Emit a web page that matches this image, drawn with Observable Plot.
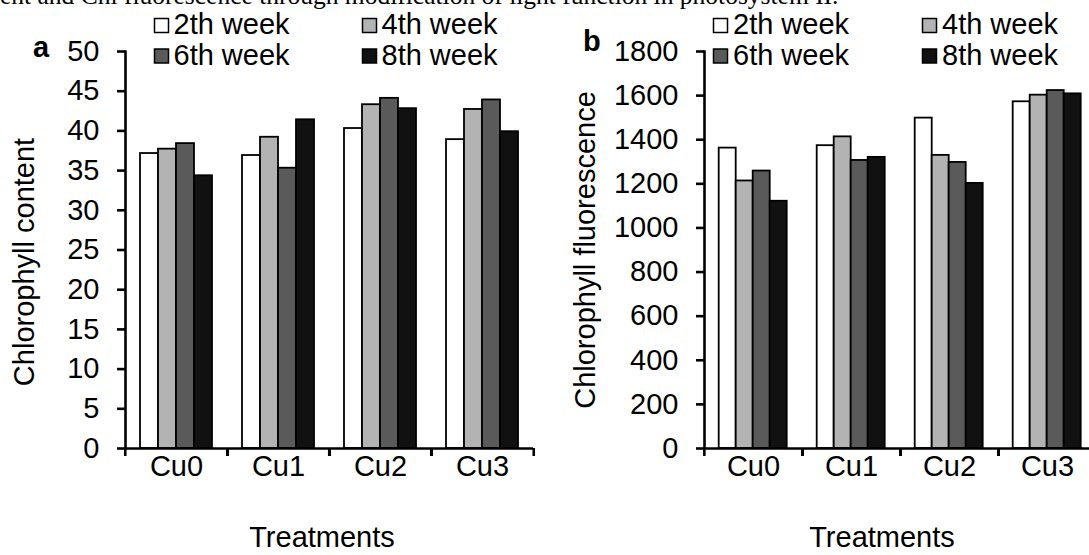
<!DOCTYPE html>
<html><head><meta charset="utf-8">
<script src="https://cdn.jsdelivr.net/npm/d3@7"></script>
<script src="https://cdn.jsdelivr.net/npm/@observablehq/plot@0.6"></script>
<style>
html,body{margin:0;padding:0;background:#fff;}
#wrap{position:relative;width:1089px;height:555px;overflow:hidden;font-family:"Liberation Sans",Arial,sans-serif;background:#fff;}
#wrap > *{position:absolute;top:0;}
</style></head><body><div id="wrap"></div>
<script>
// ---- data ----
const treatments = ["Cu0", "Cu1", "Cu2", "Cu3"];
const weeks = ["2th week", "4th week", "6th week", "8th week"];
const weekColors = ["#ffffff", "#b3b3b3", "#5a5a5a", "#111111"];

// Chlorophyll content (panel a), one array per week, in treatment order
const content2 = [37.15, 36.9, 40.3, 38.9];
const content4 = [37.7, 39.2, 43.3, 42.7];
const content6 = [38.4, 35.3, 44.1, 43.9];
const content8 = [34.35, 41.4, 42.8, 39.9];
const contentTicks = [0, 5, 10, 15, 20, 25, 30, 35, 40, 45, 50];

// Chlorophyll fluorescence (panel b)
const fluor2 = [1362, 1373, 1498, 1572];
const fluor4 = [1213, 1413, 1329, 1602];
const fluor6 = [1258, 1306, 1297, 1623];
const fluor8 = [1121, 1320, 1202, 1608];
const fluorTicks = [0, 200, 400, 600, 800, 1000, 1200, 1400, 1600, 1800];

const headerText = "ent and Chl fluorescence through modification of light function in photosystem II.";

function toRows(series) {
  const rows = [];
  series.forEach((vals, wi) => vals.forEach((v, ti) => rows.push({treatment: treatments[ti], week: weeks[wi], value: v})));
  return rows;
}

const FONT = '"Liberation Sans", Arial, sans-serif';

function chart({rows, yDomain, yTicks, width, marginLeft, marginRight}) {
  const bw = (width - marginLeft - marginRight) / treatments.length;
  return Plot.plot({
    width, height: 555, marginTop: 51, marginBottom: 107, marginLeft, marginRight,
    style: {fontFamily: FONT, fontSize: "29px", color: "#000", background: "transparent", overflow: "visible"},
    fx: {domain: treatments, padding: 0, label: null},
    x: {domain: weeks, paddingInner: 0, paddingOuter: 0.735, axis: null},
    y: {domain: yDomain, label: null},
    color: {domain: weeks, range: weekColors},
    marks: [
      Plot.barY(rows, {fx: "treatment", x: "week", y: "value", fill: "week", stroke: "#000", strokeWidth: 1.8}),
      Plot.ruleY([0], {strokeWidth: 2.6}),
      Plot.frame({anchor: "left", facetAnchor: "left", strokeWidth: 2.6}),
      Plot.axisY(yTicks, {tickSize: 8, tickPadding: 18, strokeWidth: 2.6, fontSize: 29, tickFormat: d => String(d), label: null}),
      Plot.axisFx({anchor: "bottom", tickSize: 0, tickPadding: 7, fontSize: 29, label: null}),
      Plot.axisFx({anchor: "bottom", tickSize: 8, strokeWidth: 2.6, tickFormat: () => "", dx: -bw / 2, label: null}),
      Plot.axisFx([treatments[treatments.length - 1]], {anchor: "bottom", tickSize: 8, strokeWidth: 2.6, tickFormat: () => "", dx: bw / 2, label: null})
    ]
  });
}

const wrap = document.getElementById("wrap");

const plotA = chart({rows: toRows([content2, content4, content6, content8]), yDomain: [0, 50], yTicks: contentTicks,
  width: 545, marginLeft: 124, marginRight: 11});
plotA.style.left = "0px";
wrap.appendChild(plotA);

const plotB = chart({rows: toRows([fluor2, fluor4, fluor6, fluor8]), yDomain: [0, 1800], yTicks: fluorTicks,
  width: 560, marginLeft: 158.3, marginRight: 8.5});
plotB.style.left = "545px";
wrap.appendChild(plotB);

// ---- overlay: header, panel letters, legends, axis titles ----
const svg = d3.create("svg").attr("width", 1089).attr("height", 555)
  .style("left", "0px").style("pointer-events", "none").style("overflow", "visible");

svg.append("text").attr("x", 0).attr("y", 4)
  .attr("font-family", '"Liberation Serif", "Times New Roman", serif').attr("font-size", 25.5)
  .text(headerText);

const panels = [
  {letter: "a", lx: 33, ly: 57, cols: [154.5, 362.5], textDx: 19, ytitle: "Chlorophyll content", tx: 34, ty: 262, xtx: 322},
  {letter: "b", lx: 583, ly: 51, cols: [713.5, 922.5], textDx: 19.5, ytitle: "Chlorophyll fluorescence", tx: 595, ty: 250, xtx: 882}
];
const rowY = [{rect: 18.5, base: 34}, {rect: 49, base: 64.5}];

for (const p of panels) {
  svg.append("text").attr("x", p.lx).attr("y", p.ly).attr("font-family", FONT).attr("font-size", 29)
    .attr("font-weight", "bold").text(p.letter);
  weeks.forEach((w, i) => {
    const r = Math.floor(i / 2), c = i % 2;
    svg.append("rect").attr("x", p.cols[c]).attr("y", rowY[r].rect).attr("width", 14).attr("height", 14)
      .attr("fill", weekColors[i]).attr("stroke", "#000").attr("stroke-width", 1.5);
    svg.append("text").attr("x", p.cols[c] + p.textDx).attr("y", rowY[r].base)
      .attr("font-family", FONT).attr("font-size", 29).text(w);
  });
  svg.append("text").attr("transform", `translate(${p.tx},${p.ty}) rotate(-90)`).attr("text-anchor", "middle")
    .attr("font-family", FONT).attr("font-size", 29).text(p.ytitle);
  svg.append("text").attr("x", p.xtx).attr("y", 547).attr("text-anchor", "middle")
    .attr("font-family", FONT).attr("font-size", 29).text("Treatments");
}
wrap.appendChild(svg.node());
</script>
</body></html>
